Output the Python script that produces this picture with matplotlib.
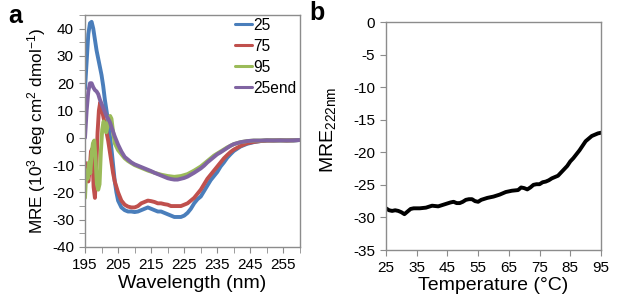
import numpy as np
import matplotlib
matplotlib.use('Agg')
import matplotlib.pyplot as plt

plt.rcParams['font.family'] = ['Liberation Sans', 'DejaVu Sans']
plt.rcParams['mathtext.fontset'] = 'custom'
plt.rcParams['mathtext.rm'] = 'Liberation Sans'
plt.rcParams['mathtext.default'] = 'regular'
plt.rcParams['axes.unicode_minus'] = False

# ---- panel a: CD spectra ----
wl_25 = [195, 195.5, 196, 196.5, 197, 197.5, 198, 198.5, 199, 199.5, 200, 200.5, 201, 201.5,
         202, 202.5, 203, 203.5, 204, 204.5, 205, 206, 207, 208, 209, 210, 211, 212, 213,
         214, 215, 216, 217, 218, 219, 220, 221, 222, 223, 224, 225, 226, 227, 228, 229,
         230, 231, 232, 233, 234, 235, 236, 237, 238, 239, 240, 242, 244, 246, 248, 250,
         252, 254, 256, 258, 260]
mre_25 = [18, 28, 38, 42, 42.5, 40, 36, 32, 29, 26, 23, 19, 14, 10,
          6, 1, -4, -10, -16, -20, -23, -25.5, -26.5, -27, -27, -27.2, -27, -26.5, -26,
          -25.5, -26, -26.5, -27, -27, -27.5, -28, -28.5, -29, -29, -29, -28.5, -27.5, -26, -24, -22.5,
          -21.5, -19.5, -17.5, -15.5, -14, -12.5, -10.5, -9, -7.3, -6, -4.8, -3.2, -2.2, -1.6, -1.2, -1.0,
          -0.9, -1.0, -0.9, -1.0, -0.8]

wl_75 = [195, 195.3, 195.6, 196, 196.4, 196.8, 197.2, 197.6, 198, 198.4, 198.8, 199.2, 199.6,
         200, 200.5, 201, 201.5, 202, 202.5, 203, 203.5, 204, 205, 206, 207, 208, 209, 210,
         211, 212, 213, 214, 215, 216, 217, 218, 219, 220, 221, 222, 223, 224, 225, 226, 227,
         228, 229, 230, 231, 232, 233, 234, 235, 236, 237, 238, 239, 240, 242, 244, 246, 248,
         250, 252, 254, 256, 258, 260]
mre_75 = [-9, -14, -10, -16, -12, -5, -4, -18, -22, -12, 2, 10, 13,
          11, 8, 5, 2, -1, -5, -9, -13, -16, -20, -23, -24.5, -25.2, -25.5, -25.5,
          -25, -24, -23.5, -23, -23.2, -23.5, -24, -24, -24.3, -24.5, -25, -25, -25, -25, -24.5, -24, -23,
          -22, -20.5, -19, -17, -15, -13.5, -12, -10.5, -9, -7.5, -6.3, -5.2, -4.3, -3, -2, -1.5, -1.2,
          -1.0, -1.0, -0.9, -1.0, -0.9, -0.8]

wl_95 = [195, 195.4, 195.8, 196.2, 196.6, 197, 197.4, 197.8, 198.2, 198.6, 199, 199.4, 199.8,
         200.2, 200.6, 201, 201.4, 201.8, 202.2, 202.6, 203, 203.5, 204, 205, 206, 207, 208,
         210, 212, 214, 216, 218, 220, 222, 224, 226, 228, 230, 232, 234, 236, 238, 240, 242,
         244, 246, 248, 250, 252, 254, 256, 258, 260]
mre_95 = [-22, -12, -15, -9, -13, -6, -2, -1, -8, -17, -19, -17, -5,
          3, 6, 5, 2, 4, 7, 8, 7, 2, -2, -4.5, -6, -7.5, -8.5,
          -10, -11, -12, -12.8, -13.5, -14, -14.3, -14, -13.3, -12, -10.5, -8.5, -6.5, -5, -3.5, -2.3, -1.6,
          -1.2, -1.0, -1.0, -0.9, -1.0, -0.9, -1.0, -0.9, -0.8]

wl_25end = [195, 195.5, 196, 196.5, 197, 197.5, 198, 198.5, 199, 199.5, 200, 200.5, 201, 201.5,
            202, 202.5, 203, 204, 205, 206, 207, 208, 209, 210, 211, 212, 213, 214, 215, 216,
            217, 218, 219, 220, 221, 222, 223, 224, 225, 226, 227, 228, 229, 230, 231, 232, 233,
            234, 235, 236, 237, 238, 239, 240, 242, 244, 246, 248, 250, 252, 254, 256, 258, 260]
mre_25end = [0, 10, 17, 20, 20, 18.5, 17.5, 17, 16, 14, 12.5, 11, 9.5, 8,
             7, 5.8, 4, 0.5, -2.5, -5, -7, -8, -9, -9.7, -10.2, -10.7, -11.2, -11.7, -12.2, -12.8,
             -13.3, -13.8, -14.3, -14.8, -15.1, -15.3, -15.3, -15, -14.7, -14.2, -13.5, -12.8, -12, -11.2, -10.2, -9, -8,
             -7, -6, -5.3, -4.5, -3.7, -2.9, -2.3, -1.6, -1.2, -1.0, -1.0, -0.9, -1.0, -0.9, -1.0, -0.9, -0.8]

series = [
    ('25', wl_25, mre_25, '#4a7ebb'),
    ('75', wl_75, mre_75, '#c0504d'),
    ('95', wl_95, mre_95, '#9bbb59'),
    ('25end', wl_25end, mre_25end, '#8064a2'),
]

# ---- panel b: thermal melt at 222 nm ----
temp = [25, 26, 27, 28, 29, 30, 31, 32, 33, 34, 36, 38, 40, 42, 44, 46, 47, 48, 49, 50, 51, 52,
        53, 54, 55, 56, 58, 60, 62, 64, 66, 68, 69, 70, 71, 72, 73, 74, 75, 76, 77, 78, 79, 80,
        81, 82, 83, 84, 85, 86, 87, 88, 89, 90, 91, 92, 93, 94, 95]
mre_222 = [-28.6, -28.9, -29.0, -28.9, -29.0, -29.2, -29.5, -29.1, -28.7, -28.6, -28.6, -28.5,
           -28.2, -28.3, -28.0, -27.7, -27.6, -27.8, -27.8, -27.6, -27.3, -27.2, -27.2, -27.5,
           -27.6, -27.3, -27.0, -26.8, -26.5, -26.1, -25.9, -25.8, -25.4, -25.5, -25.7, -25.4,
           -25.0, -24.9, -24.9, -24.6, -24.5, -24.3, -24.0, -23.8, -23.6, -23.1, -22.6, -22.1,
           -21.4, -20.9, -20.3, -19.7, -19.0, -18.3, -17.9, -17.5, -17.3, -17.1, -17.0]

W, H = 617, 301
fig = plt.figure(figsize=(W / 100, H / 100), dpi=100)
ax1 = fig.add_axes([85 / W, (H - 247) / H, 215 / W, 232 / H])
ax2 = fig.add_axes([386 / W, (H - 250) / H, 215 / W, 228 / H])

frame = '#8c8c8c'

for name, x, y, c in series:
    ax1.plot(x, y, color=c, lw=2.8, label=name, solid_capstyle='round')
ax1.set_xlim(195, 260)
ax1.set_ylim(-40, 45)
ax1.set_xticks(np.arange(195, 256, 10))
ax1.set_xticks(np.arange(200, 261, 10), minor=True)
ax1.set_yticks(np.arange(-40, 41, 10))
ax1.set_yticks(np.arange(-35, 46, 10), minor=True)
ax1.set_xlabel('Wavelength (nm)', fontsize=14, labelpad=2)
ax1.set_ylabel('MRE (10$^{3}$ deg cm$^{2}$ dmol$^{-1}$)', fontsize=12.3, labelpad=3)
leg = ax1.legend(loc='upper left', bbox_to_anchor=(0.655, 1.028), frameon=False, fontsize=11.2,
                 handlelength=1.06, handletextpad=0.1, labelspacing=0.38, borderaxespad=0.2)
for ln in leg.get_lines():
    ln.set_linewidth(2.2)

ax2.plot(temp, mre_222, color='black', lw=2.8)
ax2.set_xlim(25, 95)
ax2.set_ylim(-35, 0)
ax2.set_xticks(np.arange(25, 96, 10))
ax2.set_yticks(np.arange(-35, 1, 5))
ax2.set_xlabel('Temperature (°C)', fontsize=14, labelpad=1)
ax2.set_ylabel('MRE$_{222nm}$', fontsize=14)
ax2.yaxis.set_label_coords(-0.224, 0.526)

for ax in (ax1, ax2):
    for s in ax.spines.values():
        s.set_color(frame)
        s.set_linewidth(1.0)
    ax.tick_params(which='both', direction='out', color=frame, labelsize=11, pad=4)
    ax.tick_params(which='major', length=4)
    ax.tick_params(which='minor', length=4)

fig.text(8 / W, 1 - 16 / H, 'a', fontsize=18, fontweight='bold', va='center', ha='left')
fig.text(309 / W, 1 - 13 / H, 'b', fontsize=18, fontweight='bold', va='center', ha='left')

fig.savefig('out.png', dpi=100)
